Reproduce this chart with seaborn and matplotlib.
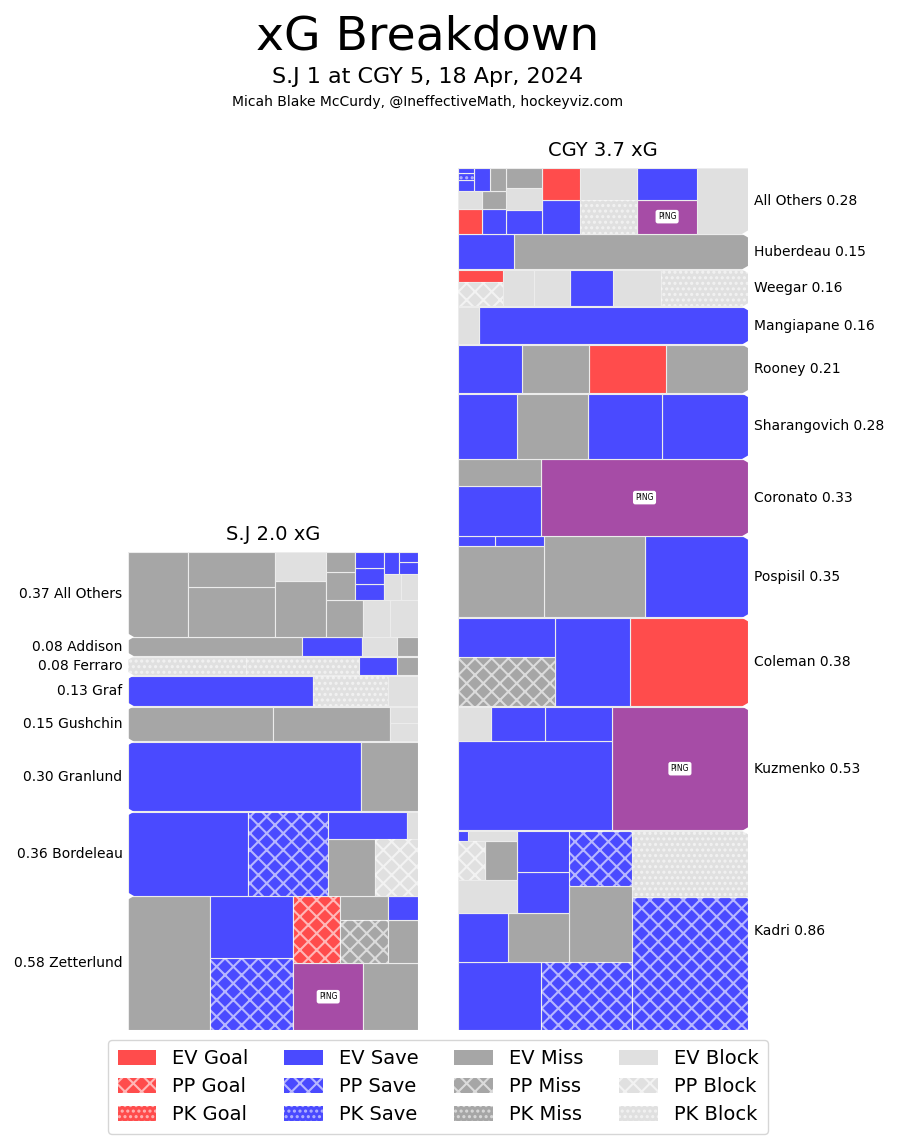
import matplotlib
matplotlib.use("Agg")
import matplotlib.pyplot as plt
import matplotlib.patches as mpatches
import seaborn as sns

sns.set_theme(style="white")
plt.rcParams['font.family'] = ['DejaVu Sans']
plt.rcParams['hatch.linewidth'] = 1.5
plt.rcParams['text.color'] = 'black'

# ---------------- data ----------------
title = "xG Breakdown"
subtitle = "S.J 1 at CGY 5, 18 Apr, 2024"
credit = "Micah Blake McCurdy, @IneffectiveMath, hockeyviz.com"

sj_team = "S.J"
sj_players = ["All Others", "Addison", "Ferraro", "Graf", "Gushchin",
              "Granlund", "Bordeleau", "Zetterlund"]
sj_shot_xg = {
    "All Others": [0.0765, 0.0648, 0.0456, 0.0415, 0.0223, 0.0200, 0.0150, 0.0150,
                   0.0125, 0.0090, 0.0070, 0.0070, 0.0070, 0.0067, 0.0066,
                   0.0050, 0.0034, 0.0030],
    "Addison": [0.0480, 0.0166, 0.0097, 0.0058],
    "Ferraro": [0.0326, 0.0309, 0.0105, 0.0058],
    "Graf": [0.0829, 0.0336, 0.0134],
    "Gushchin": [0.0750, 0.0605, 0.0077, 0.0068],
    "Granlund": [0.2410, 0.0590],
    "Bordeleau": [0.1493, 0.0996, 0.0395, 0.0361, 0.0320, 0.0045],
    "Zetterlund": [0.1635, 0.0896, 0.0759, 0.0693, 0.0544, 0.0462, 0.0309,
                   0.0193, 0.0173, 0.0108],
}
sj_shot_type = {
    "All Others": ["EV Miss", "EV Miss", "EV Miss", "EV Miss", "EV Block", "EV Miss",
                   "EV Block", "EV Block", "EV Miss", "EV Miss", "EV Save", "EV Save",
                   "EV Save", "EV Block", "EV Block", "EV Save", "EV Save", "EV Save"],
    "Addison": ["EV Miss", "EV Save", "EV Block", "EV Miss"],
    "Ferraro": ["PK Block", "PK Block", "EV Save", "EV Miss"],
    "Graf": ["EV Save", "PK Block", "EV Block"],
    "Gushchin": ["EV Miss", "EV Miss", "EV Block", "EV Block"],
    "Granlund": ["EV Save", "EV Miss"],
    "Bordeleau": ["EV Save", "PP Save", "EV Miss", "PP Block", "EV Save", "EV Block"],
    "Zetterlund": ["EV Miss", "PP Save", "EV Save", "PING", "EV Miss", "PP Goal",
                   "PP Miss", "EV Miss", "EV Miss", "EV Save"],
}

cgy_team = "CGY"
cgy_players = ["All Others", "Huberdeau", "Weegar", "Mangiapane", "Rooney",
               "Sharangovich", "Coronato", "Pospisil", "Coleman", "Kuzmenko", "Kadri"]
cgy_shot_xg = {
    "All Others": [0.0496, 0.0307, 0.0289, 0.0286, 0.0269, 0.0194, 0.0183, 0.0126,
                   0.0116, 0.0105, 0.0090, 0.0087, 0.0064, 0.0064, 0.0058, 0.0058,
                   0.0026, 0.0017, 0.0012],
    "Huberdeau": [0.1210, 0.0290],
    "Weegar": [0.0474, 0.0265, 0.0232, 0.0199, 0.0168, 0.0163, 0.0085],
    "Mangiapane": [0.1484, 0.0116],
    "Rooney": [0.0587, 0.0558, 0.0485, 0.0457],
    "Sharangovich": [0.0829, 0.0712, 0.0693, 0.0566],
    "Coronato": [0.2355, 0.0622, 0.0323],
    "Pospisil": [0.1242, 0.1214, 0.0915, 0.0073, 0.0054],
    "Coleman": [0.1544, 0.0990, 0.0713, 0.0553],
    "Kuzmenko": [0.2508, 0.2055, 0.0336, 0.0275, 0.0168],
    "Kadri": [0.2293, 0.1138, 0.0928, 0.0846, 0.0706, 0.0511, 0.0446, 0.0360,
              0.0326, 0.0318, 0.0292, 0.0182, 0.0154, 0.0073, 0.0015],
}
cgy_shot_type = {
    "All Others": ["EV Block", "PING", "EV Save", "PK Block", "EV Block", "EV Save",
                   "EV Goal", "EV Save", "EV Block", "EV Miss", "EV Save", "EV Goal",
                   "EV Miss", "EV Block", "EV Miss", "EV Save", "EV Save", "PK Save",
                   "EV Save"],
    "Huberdeau": ["EV Miss", "EV Save"],
    "Weegar": ["PK Block", "EV Block", "EV Save", "EV Block", "EV Block", "PP Block",
               "EV Goal"],
    "Mangiapane": ["EV Save", "EV Block"],
    "Rooney": ["EV Miss", "EV Goal", "EV Miss", "EV Save"],
    "Sharangovich": ["EV Save", "EV Save", "EV Miss", "EV Save"],
    "Coronato": ["PING", "EV Save", "EV Miss"],
    "Pospisil": ["EV Save", "EV Miss", "EV Miss", "EV Save", "EV Save"],
    "Coleman": ["EV Goal", "EV Save", "PP Miss", "EV Save"],
    "Kuzmenko": ["PING", "EV Save", "EV Save", "EV Save", "EV Block"],
    "Kadri": ["PP Save", "PK Block", "PP Save", "EV Save", "EV Miss", "PP Save",
              "EV Miss", "EV Save", "EV Save", "EV Save", "EV Block", "EV Miss",
              "PP Block", "EV Block", "EV Save"],
}

outcomes = ["Goal", "Save", "Miss", "Block"]
strengths = ["EV", "PP", "PK"]

# ---------------- styles ----------------
outcome_color = {"Goal": "#ff4c4c", "Save": "#4a4aff", "Miss": "#a6a6a6",
                 "Block": "#e0e0e0", "PING": "#a64ca6"}
strength_hatch = {"EV": None, "PP": "xx", "PK": "..."}
hatch_col = {"PP": (1, 1, 1, 0.6), "PK": (1, 1, 1, 0.55)}
edge_col = "#ececec"

FIG_W, FIG_H = 897, 1142
PX_PER_XG = 231.5
COL_W = 290
BOTTOM_PX = 112
GAP = 0.003


# ---------------- squarify (Bruls et al.) ----------------
def _layout(sizes, x, y, dx, dy):
    s = sum(sizes)
    rects = []
    if dx >= dy:
        w = s / dy
        for v in sizes:
            rects.append((x, y, w, v / w))
            y += v / w
    else:
        h = s / dx
        for v in sizes:
            rects.append((x, y, v / h, h))
            x += v / h
    return rects


def _leftover(sizes, x, y, dx, dy):
    s = sum(sizes)
    if dx >= dy:
        w = s / dy
        return x + w, y, dx - w, dy
    h = s / dx
    return x, y + h, dx, dy - h


def _worst(sizes, x, y, dx, dy):
    return max(max(r[2] / r[3], r[3] / r[2]) for r in _layout(sizes, x, y, dx, dy))


def squarify(sizes, x, y, dx, dy):
    if len(sizes) == 0:
        return []
    if len(sizes) == 1:
        return _layout(sizes, x, y, dx, dy)
    i = 1
    while i < len(sizes) and _worst(sizes[:i], x, y, dx, dy) >= _worst(sizes[:i + 1], x, y, dx, dy):
        i += 1
    cur, rem = sizes[:i], sizes[i:]
    lx, ly, ldx, ldy = _leftover(cur, x, y, dx, dy)
    return _layout(cur, x, y, dx, dy) + squarify(rem, lx, ly, ldx, ldy)


def style_of(t):
    if t == "PING":
        return outcome_color["PING"], None, None
    s, o = t.split()
    return outcome_color[o], strength_hatch[s], hatch_col.get(s)


fig = plt.figure(figsize=(FIG_W / 100, FIG_H / 100), dpi=100)


def draw_team(team, players, shot_xg, shot_type, left_px, outer):
    totals = [sum(shot_xg[p]) for p in players]
    n = len(players)
    ytop = sum(totals) + GAP * (n - 1)
    ax = fig.add_axes([left_px / FIG_W, BOTTOM_PX / FIG_H, COL_W / FIG_W,
                       ytop * PX_PER_XG / FIG_H])
    ax.set_xlim(0, 1)
    ax.set_ylim(0, ytop)
    ax.axis("off")
    y0 = 0.0
    boundaries = []
    for idx in range(n - 1, -1, -1):
        p = players[idx]
        tot = totals[idx]
        order = sorted(range(len(shot_xg[p])), key=lambda k: -shot_xg[p][k])
        vals = [shot_xg[p][k] for k in order]
        types = [shot_type[p][k] for k in order]
        rects = squarify(vals, 0.0, y0, 1.0, tot)
        for (rx, ry, rw, rh), t in zip(rects, types):
            if outer == "right":
                rx = 1.0 - rx - rw
            fc, hatch, hc = style_of(t)
            ax.add_patch(mpatches.Rectangle((rx, ry), rw, rh, facecolor=fc,
                                            edgecolor=edge_col, lw=0.8, zorder=2))
            if hatch:
                ax.add_patch(mpatches.Rectangle((rx, ry), rw, rh, fill=False,
                                                hatch=hatch, edgecolor=hc,
                                                lw=0, zorder=3))
            if t == "PING":
                ax.text(rx + rw / 2, ry + rh / 2, "PING", fontsize=5.5, ha="center",
                        va="center", zorder=5,
                        bbox=dict(boxstyle="round,pad=0.3", fc="white", ec="none"))
        yc = y0 + tot / 2
        if outer == "right":
            ax.annotate(f"{p} {tot:.2f}", xy=(1, yc), xycoords=("axes fraction", "data"),
                        xytext=(4, 0), textcoords="offset points", ha="left",
                        va="center", fontsize=10)
        else:
            ax.annotate(f"{tot:.2f} {p}", xy=(0, yc), xycoords=("axes fraction", "data"),
                        xytext=(-4, 0), textcoords="offset points", ha="right",
                        va="center", fontsize=10)
        y0 += tot
        if idx > 0:
            boundaries.append(y0 + GAP / 2)
        y0 += GAP
    # notches between rows on the outer side
    ndx = 6.0 / COL_W
    ndy = 6.0 / PX_PER_XG
    for b in boundaries:
        if outer == "right":
            verts = [(1.02, b - ndy - 0.004), (1.0 - ndx, b), (1.02, b + ndy + 0.004)]
        else:
            verts = [(-0.02, b - ndy - 0.004), (ndx, b), (-0.02, b + ndy + 0.004)]
        ax.add_patch(mpatches.Polygon(verts, closed=True, facecolor="white",
                                      edgecolor="none", zorder=6, clip_on=False))
    ax.annotate(f"{team} {sum(totals):.1f} xG", xy=(0.5, 1), xycoords="axes fraction",
                xytext=(0, 8.6), textcoords="offset points", ha="center",
                va="baseline", fontsize=14)
    return ax


draw_team(sj_team, sj_players, sj_shot_xg, sj_shot_type, 128, "left")
draw_team(cgy_team, cgy_players, cgy_shot_xg, cgy_shot_type, 458, "right")

fig.text(428 / FIG_W, 1 - 50 / FIG_H, title, ha="center", va="baseline", fontsize=34)
fig.text(428 / FIG_W, 1 - 83 / FIG_H, subtitle, ha="center", va="baseline", fontsize=16)
fig.text(428 / FIG_W, 1 - 106 / FIG_H, credit, ha="center", va="baseline", fontsize=10)

handles, labels = [], []
for o in outcomes:
    for s in strengths:
        fc = outcome_color[o]
        h = strength_hatch[s]
        handles.append(mpatches.Patch(facecolor=fc, hatch=h,
                                      edgecolor=hatch_col.get(s, (1, 1, 1, 0.6)), lw=0))
        labels.append(f"{s} {o}")
leg = fig.legend(handles, labels, ncol=4, loc="upper center",
                 bbox_to_anchor=(438 / FIG_W, 1 - 1030 / FIG_H), fontsize=14,
                 frameon=True, handlelength=2.0, handleheight=0.8, columnspacing=1.85,
                 labelspacing=0.45, borderpad=0.5, handletextpad=0.8)
leg.get_frame().set_edgecolor("#cccccc")
for txt in leg.get_texts():
    txt.set_color("black")

fig.savefig("out.png", dpi=100)
